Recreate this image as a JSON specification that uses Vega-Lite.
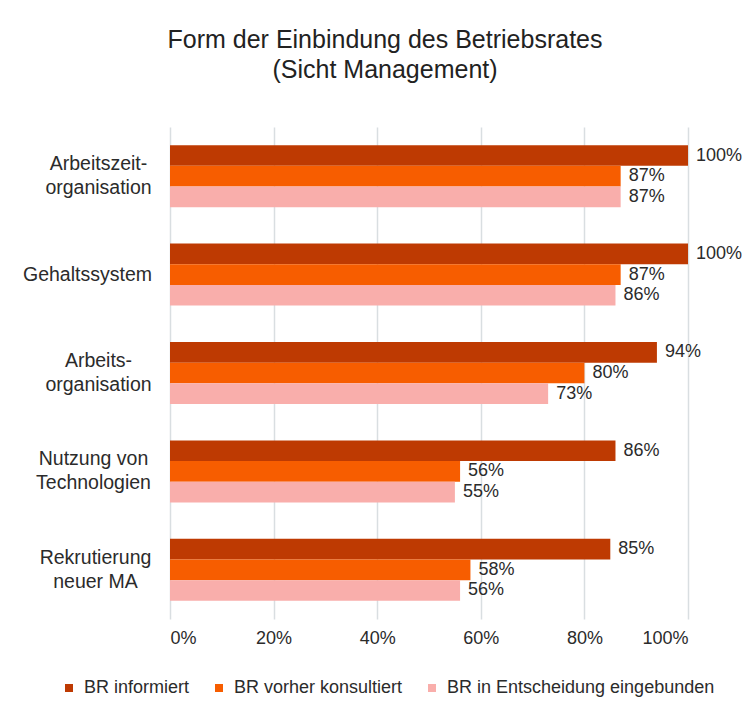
{
  "$schema": "https://vega.github.io/schema/vega-lite/v6.json",
  "width": 518,
  "height": 492,
  "autosize": {"type": "none"},
  "padding": {"left": 170, "top": 127, "right": 64, "bottom": 87},
  "background": "white",
  "config": {
    "font": "Liberation Sans",
    "view": {"stroke": null},
    "axis": {"labelFont": "Liberation Sans", "labelColor": "#2b2b2b"}
  },
  "title": {
    "text": ["Form der Einbindung des Betriebsrates", "(Sicht Management)"],
    "fontSize": 25,
    "fontWeight": "normal",
    "color": "#222222",
    "lineHeight": 30,
    "anchor": "middle",
    "dx": -44,
    "offset": 44
  },
  "data": {
    "values": [
      {"kategorie": "Arbeitszeit-|organisation", "form": "BR informiert", "wert": 1.00},
      {"kategorie": "Arbeitszeit-|organisation", "form": "BR vorher konsultiert", "wert": 0.87},
      {"kategorie": "Arbeitszeit-|organisation", "form": "BR in Entscheidung eingebunden", "wert": 0.87},
      {"kategorie": "Gehaltssystem", "form": "BR informiert", "wert": 1.00},
      {"kategorie": "Gehaltssystem", "form": "BR vorher konsultiert", "wert": 0.87},
      {"kategorie": "Gehaltssystem", "form": "BR in Entscheidung eingebunden", "wert": 0.86},
      {"kategorie": "Arbeits-|organisation", "form": "BR informiert", "wert": 0.94},
      {"kategorie": "Arbeits-|organisation", "form": "BR vorher konsultiert", "wert": 0.80},
      {"kategorie": "Arbeits-|organisation", "form": "BR in Entscheidung eingebunden", "wert": 0.73},
      {"kategorie": "Nutzung von|Technologien", "form": "BR informiert", "wert": 0.86},
      {"kategorie": "Nutzung von|Technologien", "form": "BR vorher konsultiert", "wert": 0.56},
      {"kategorie": "Nutzung von|Technologien", "form": "BR in Entscheidung eingebunden", "wert": 0.55},
      {"kategorie": "Rekrutierung|neuer MA", "form": "BR informiert", "wert": 0.85},
      {"kategorie": "Rekrutierung|neuer MA", "form": "BR vorher konsultiert", "wert": 0.58},
      {"kategorie": "Rekrutierung|neuer MA", "form": "BR in Entscheidung eingebunden", "wert": 0.56}
    ]
  },
  "encoding": {
    "y": {
      "field": "kategorie",
      "type": "nominal",
      "sort": null,
      "scale": {"paddingInner": 0.37, "paddingOuter": 0.185},
      "axis": {
        "title": null,
        "domain": false,
        "ticks": false,
        "labelAlign": "center",
        "labelBaseline": "middle",
        "labelPadding": {
          "condition": [
            {"test": "datum.value === 'Gehaltssystem'", "value": 83},
            {"test": "datum.value === 'Nutzung von|Technologien'", "value": 77},
            {"test": "datum.value === 'Rekrutierung|neuer MA'", "value": 75}
          ],
          "value": 72
        },
        "labelOffset": {
          "condition": {"test": "datum.value === 'Gehaltssystem'", "value": 0},
          "value": -12
        },
        "labelFontSize": 19.5,
        "labelLineHeight": 24,
        "labelExpr": "split(datum.value, '|')"
      }
    },
    "yOffset": {
      "field": "form",
      "type": "nominal",
      "sort": ["BR informiert", "BR vorher konsultiert", "BR in Entscheidung eingebunden"],
      "scale": {"paddingInner": 0, "paddingOuter": 0}
    },
    "x": {
      "field": "wert",
      "type": "quantitative",
      "scale": {"domain": [0, 1], "nice": false},
      "axis": {
        "title": null,
        "format": ".0%",
        "values": [0, 0.2, 0.4, 0.6, 0.8, 1],
        "domain": false,
        "ticks": false,
        "grid": true,
        "gridColor": "#D9DEE1",
        "gridWidth": 1.5,
        "labelPadding": 10,
        "labelFontSize": 18
      }
    }
  },
  "layer": [
    {
      "mark": {"type": "bar"},
      "encoding": {
        "color": {
          "field": "form",
          "type": "nominal",
          "sort": ["BR informiert", "BR vorher konsultiert", "BR in Entscheidung eingebunden"],
          "scale": {
            "domain": ["BR informiert", "BR vorher konsultiert", "BR in Entscheidung eingebunden"],
            "range": ["#BE3A02", "#F75D00", "#F9AEAB"]
          },
          "legend": {
            "title": null,
            "orient": "none",
            "direction": "horizontal",
            "legendX": -110,
            "legendY": 552,
            "symbolType": "square",
            "symbolSize": 64,
            "symbolStrokeWidth": 0,
            "labelFontSize": 18,
            "labelColor": "#2b2b2b",
            "labelOffset": 6,
            "columnPadding": 20,
            "labelLimit": 400
          }
        }
      }
    },
    {
      "mark": {"type": "text", "align": "left", "baseline": "middle", "dx": 8, "fontSize": 18, "color": "#2b2b2b"},
      "encoding": {
        "text": {"field": "wert", "type": "quantitative", "format": ".0%"}
      }
    }
  ]
}
